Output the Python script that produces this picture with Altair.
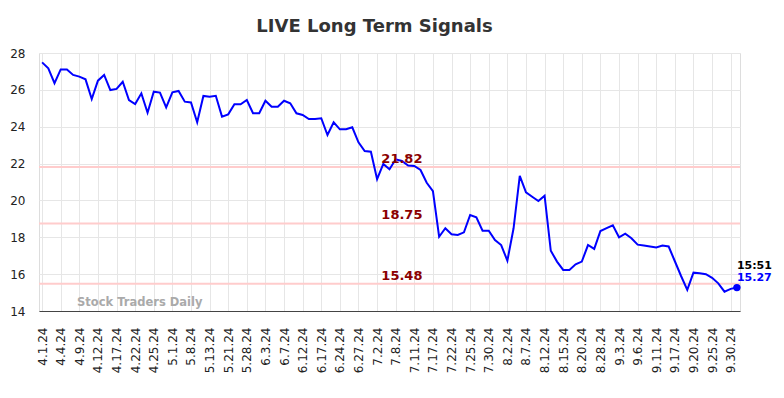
import altair as alt
import pandas as pd

title_text = "LIVE Long Term Signals"

dates = [
    "4.1.24", "4.2.24", "4.3.24", "4.4.24", "4.5.24", "4.8.24", "4.9.24", "4.10.24", "4.11.24",
    "4.12.24", "4.15.24", "4.16.24", "4.17.24", "4.18.24", "4.19.24", "4.22.24", "4.23.24", "4.24.24",
    "4.25.24", "4.26.24", "4.30.24", "5.1.24", "5.3.24", "5.7.24", "5.8.24", "5.9.24", "5.10.24",
    "5.13.24", "5.15.24", "5.17.24", "5.21.24", "5.23.24", "5.24.24", "5.28.24", "5.30.24", "5.31.24",
    "6.3.24", "6.4.24", "6.6.24", "6.7.24", "6.10.24", "6.11.24", "6.12.24", "6.13.24", "6.14.24",
    "6.17.24", "6.18.24", "6.21.24", "6.24.24", "6.25.24", "6.26.24", "6.27.24", "6.28.24", "7.1.24",
    "7.2.24", "7.3.24", "7.5.24", "7.8.24", "7.9.24", "7.10.24", "7.11.24", "7.12.24", "7.16.24",
    "7.17.24", "7.18.24", "7.19.24", "7.22.24", "7.23.24", "7.24.24", "7.25.24", "7.26.24", "7.29.24",
    "7.30.24", "7.31.24", "8.1.24", "8.2.24", "8.5.24", "8.6.24", "8.7.24", "8.8.24", "8.9.24",
    "8.12.24", "8.13.24", "8.14.24", "8.15.24", "8.16.24", "8.19.24", "8.20.24", "8.22.24", "8.26.24",
    "8.28.24", "8.29.24", "8.30.24", "9.3.24", "9.4.24", "9.5.24", "9.6.24", "9.9.24", "9.10.24",
    "9.11.24", "9.12.24", "9.16.24", "9.17.24", "9.18.24", "9.19.24", "9.20.24", "9.23.24", "9.24.24",
    "9.25.24", "9.26.24", "9.27.24", "9.30.24", "10.1.24",
]

values = [
    27.49, 27.17, 26.36, 27.11, 27.11, 26.81, 26.72, 26.57, 25.50,
    26.50, 26.81, 25.99, 26.05, 26.44, 25.45, 25.23, 25.81, 24.76,
    25.90, 25.85, 25.05, 25.87, 25.94, 25.36, 25.32, 24.24, 25.67,
    25.63, 25.68, 24.55, 24.67, 25.22, 25.22, 25.45, 24.73, 24.73,
    25.41, 25.09, 25.09, 25.41, 25.27, 24.73, 24.64, 24.42, 24.42,
    24.46, 23.55, 24.24, 23.86, 23.86, 23.97, 23.15, 22.68, 22.64,
    21.15, 21.98, 21.69, 22.23, 22.14, 21.89, 21.87, 21.65, 20.96,
    20.51, 18.03, 18.49, 18.16, 18.13, 18.27, 19.21, 19.08, 18.36,
    18.36, 17.85, 17.58, 16.73, 18.49, 21.33, 20.44, 20.20, 19.97,
    20.26, 17.27, 16.68, 16.23, 16.23, 16.53, 16.68, 17.58, 17.37,
    18.34, 18.50, 18.65, 18.00, 18.20, 17.95, 17.60, 17.55, 17.50,
    17.45, 17.55, 17.50, 16.70, 15.90, 15.15, 16.08, 16.05, 16.00,
    15.80, 15.50, 15.05, 15.20, 15.27,
]

tick_labels = [
    "4.1.24", "4.4.24", "4.9.24", "4.12.24", "4.17.24", "4.22.24", "4.25.24", "5.1.24",
    "5.8.24", "5.13.24", "5.21.24", "5.28.24", "6.3.24", "6.7.24", "6.12.24", "6.17.24",
    "6.24.24", "6.27.24", "7.2.24", "7.8.24", "7.11.24", "7.17.24", "7.22.24", "7.25.24",
    "7.30.24", "8.2.24", "8.7.24", "8.12.24", "8.15.24", "8.20.24", "8.28.24", "9.3.24",
    "9.6.24", "9.11.24", "9.17.24", "9.20.24", "9.25.24", "9.30.24",
]

y_ticks = [14, 16, 18, 20, 22, 24, 26, 28]

levels = [21.82, 18.75, 15.48]
level_labels = ["21.82", "18.75", "15.48"]
level_label_date = "7.9.24"

last_time = "15:51"
last_value_label = "15.27"
watermark_text = "Stock Traders Daily"
watermark_date = "4.18.24"
watermark_value = 14.45

FONT = "DejaVu Sans"

df = pd.DataFrame({"date": dates, "value": values})
df_levels = pd.DataFrame({"value": levels, "label": level_labels,
                          "date": [level_label_date] * len(levels)})
df_last = pd.DataFrame({"date": [dates[-1]], "value": [values[-1]],
                        "time": [last_time], "vlabel": [last_value_label]})
df_wm = pd.DataFrame({"date": [watermark_date], "value": [watermark_value],
                      "label": [watermark_text]})

x_enc = alt.X(
    "date:N",
    sort=dates,
    scale=alt.Scale(type="point", padding=0.5, domain=dates),
    axis=alt.Axis(
        values=tick_labels, labelAngle=270, title=None, grid=True,
        gridColor="#e6e6e6", ticks=False, labelPadding=16,
        labelFontSize=12, labelColor="#222222", labelFont=FONT,
        domainColor="#444444", domainWidth=1, labelOverlap=False,
    ),
)
y_enc = alt.Y(
    "value:Q",
    scale=alt.Scale(domain=[14, 28], nice=False, zero=False),
    axis=alt.Axis(
        values=y_ticks, title=None, domain=False, ticks=False,
        labelPadding=14, labelFontSize=12, labelColor="#222222",
        labelFont=FONT, grid=True, gridColor="#e6e6e6",
        labelOverlap=False, labelBound=False, labelFlush=False,
    ),
)

rules = alt.Chart(df_levels).mark_rule(color="#ffcccc", strokeWidth=2).encode(y=y_enc)
line = alt.Chart(df).mark_line(color="#0000ff", strokeWidth=2).encode(x=x_enc, y=y_enc)
level_text = alt.Chart(df_levels).mark_text(
    color="#8b0000", fontWeight="bold", fontSize=13, font=FONT,
    baseline="bottom", align="center", dy=-1,
).encode(x=x_enc, y=y_enc, text="label:N")
last_pt = alt.Chart(df_last).mark_circle(size=55, color="#0000ff", opacity=1).encode(
    x=x_enc, y=y_enc
)
last_time_text = alt.Chart(df_last).mark_text(
    color="#000000", fontWeight="bold", fontSize=11, font=FONT,
    align="left", baseline="middle", dy=-22,
).encode(x=x_enc, y=y_enc, text="time:N")
last_val_text = alt.Chart(df_last).mark_text(
    color="#0000ff", fontWeight="bold", fontSize=11, font=FONT,
    align="left", baseline="middle", dy=-10,
).encode(x=x_enc, y=y_enc, text="vlabel:N")
wm = alt.Chart(df_wm).mark_text(
    color="#aaaaaa", fontWeight="bold", fontSize=11.5, font=FONT,
    align="center", baseline="middle", dx=17,
).encode(x=x_enc, y=y_enc, text="label:N")

chart = alt.layer(
    rules, line, level_text, wm, last_pt, last_time_text, last_val_text
).properties(
    width=701,
    height=258,
    title=alt.TitleParams(
        title_text, fontSize=18, fontWeight="bold", color="#333333",
        font=FONT, anchor="middle", offset=11, dx=-15,
    ),
    autosize=alt.AutoSizeParams(type="none"),
    padding={"left": 31, "top": 45, "right": 36, "bottom": 75},
).configure_view(stroke=None).configure(background="white")

chart.save("out.html", embed_options={"renderer": "svg", "actions": False})
